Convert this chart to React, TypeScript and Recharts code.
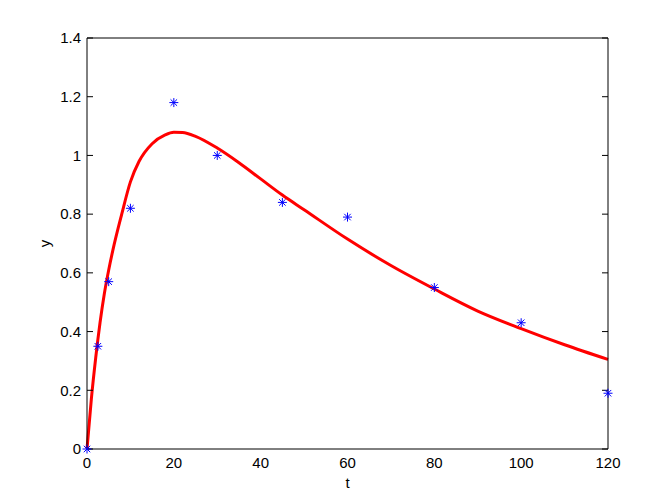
import React from "react";
import {
  ComposedChart,
  Line,
  Scatter,
  XAxis,
  YAxis,
} from "recharts";

// measured samples (blue stars)
const obsT = [0, 2.5, 5, 10, 20, 30, 45, 60, 80, 100, 120];
const obsY = [0, 0.35, 0.57, 0.82, 1.18, 1.0, 0.84, 0.79, 0.55, 0.43, 0.19];

// fitted model (red curve)
const fitT = [0, 1, 2, 3, 4, 5, 6, 8, 10, 12, 15, 18, 20, 22, 25, 30, 35, 40, 45, 50, 60, 70, 80, 90, 100, 110, 120];
const fitY = [0, 0.17, 0.31, 0.43, 0.53, 0.61, 0.68, 0.8, 0.91, 0.98, 1.04, 1.07, 1.079, 1.078, 1.065, 1.025, 0.975, 0.92, 0.865, 0.815, 0.715, 0.625, 0.545, 0.47, 0.41, 0.355, 0.305];

const xTicks = [0, 20, 40, 60, 80, 100, 120];
const yTicks = [0, 0.2, 0.4, 0.6, 0.8, 1, 1.2, 1.4];

const obsData = obsT.map((t, i) => ({ t, y: obsY[i] }));
const fitData = fitT.map((t, i) => ({ t, y: fitY[i] }));

const FONT = "'Liberation Sans', Arial, sans-serif";
const tickStyle = { fill: "#000", fontSize: 15, fontFamily: FONT };

const Star = (props: any) => {
  const { cx, cy } = props;
  if (cx == null || cy == null) return null;
  const r = 4.5;
  const d = r * 0.72;
  return (
    <g stroke="#0000ff" strokeWidth={1}>
      <line x1={cx - r} y1={cy} x2={cx + r} y2={cy} />
      <line x1={cx} y1={cy - r} x2={cx} y2={cy + r} />
      <line x1={cx - d} y1={cy - d} x2={cx + d} y2={cy + d} />
      <line x1={cx - d} y1={cy + d} x2={cx + d} y2={cy - d} />
    </g>
  );
};

const NoTick = () => <g />;

const YLabel = (props: any) => {
  const vb = props.viewBox || {};
  const cx = 50;
  const cy = (vb.y ?? 0) + (vb.height ?? 0) / 2;
  return (
    <text
      x={cx}
      y={cy}
      transform={`rotate(-90 ${cx} ${cy})`}
      textAnchor="middle"
      fontSize={15}
      fontFamily={FONT}
      fill="#000"
    >
      y
    </text>
  );
};

export default function App() {
  return (
    <div style={{ position: "absolute", left: 0, top: 0, background: "#fff" }}>
      <ComposedChart
        width={672}
        height={504}
        margin={{ top: 38, right: 64, left: 0, bottom: 0 }}
      >
        {/* labelled axes */}
        <XAxis
          xAxisId="b"
          dataKey="t"
          type="number"
          domain={[0, 120]}
          ticks={xTicks}
          interval={0}
          height={55}
          tickLine={false}
          tickSize={0}
          tickMargin={8}
          axisLine={{ stroke: "#000" }}
          tick={tickStyle}
          label={{
            value: "t",
            position: "insideBottom",
            offset: 16,
            fill: "#000",
            fontSize: 15,
            fontFamily: FONT,
          }}
        />
        <YAxis
          yAxisId="l"
          type="number"
          domain={[0, 1.4]}
          ticks={yTicks}
          interval={0}
          width={87}
          tickLine={false}
          tickSize={0}
          tickMargin={6}
          axisLine={{ stroke: "#000" }}
          tick={tickStyle}
          label={<YLabel />}
        />
        {/* inward tick marks and box */}
        <XAxis
          xAxisId="bi"
          type="number"
          domain={[0, 120]}
          ticks={xTicks}
          interval={0}
          allowDataOverflow
          mirror
          tick={NoTick}
          tickSize={6}
          tickLine={{ stroke: "#000" }}
          axisLine={false}
        />
        <XAxis
          xAxisId="ti"
          orientation="top"
          type="number"
          domain={[0, 120]}
          ticks={xTicks}
          interval={0}
          allowDataOverflow
          mirror
          tick={NoTick}
          tickSize={6}
          tickLine={{ stroke: "#000" }}
          axisLine={{ stroke: "#000" }}
        />
        <YAxis
          yAxisId="li"
          type="number"
          domain={[0, 1.4]}
          ticks={yTicks}
          interval={0}
          allowDataOverflow
          mirror
          tick={NoTick}
          tickSize={6}
          tickLine={{ stroke: "#000" }}
          axisLine={false}
        />
        <YAxis
          yAxisId="ri"
          orientation="right"
          type="number"
          domain={[0, 1.4]}
          ticks={yTicks}
          interval={0}
          allowDataOverflow
          mirror
          tick={NoTick}
          tickSize={6}
          tickLine={{ stroke: "#000" }}
          axisLine={{ stroke: "#000" }}
        />
        <Line
          xAxisId="b"
          yAxisId="l"
          data={fitData}
          dataKey="y"
          type="monotone"
          stroke="#ff0000"
          strokeWidth={3}
          dot={false}
          isAnimationActive={false}
        />
        <Scatter
          xAxisId="b"
          yAxisId="l"
          data={obsData}
          dataKey="y"
          shape={<Star />}
          isAnimationActive={false}
        />
      </ComposedChart>
    </div>
  );
}
